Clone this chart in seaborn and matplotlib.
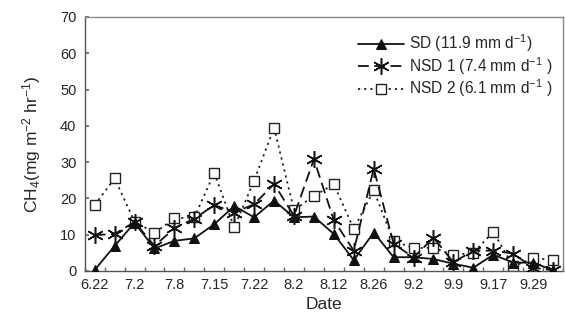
import matplotlib
matplotlib.use("Agg")
import matplotlib.pyplot as plt
import seaborn as sns
import numpy as np
import pandas as pd

# ---- data ----
dates = ["6.22", "", "7.2", "", "7.8", "", "7.15", "", "7.22", "", "8.2", "",
         "8.12", "", "8.26", "", "9.2", "", "9.9", "", "9.17", "", "9.29", ""]
sd = [0.3, 6.9, 13.3, 6.2, 8.3, 9.0, 12.9, 17.9, 14.8, 19.4, 14.8, 15.0,
      10.2, 3.0, 10.6, 3.8, 3.8, 3.3, 2.0, 0.9, 4.5, 2.3, 2.3, 0.2]
nsd1 = [9.9, 10.2, 13.5, 6.9, 11.8, 14.4, 18.2, 16.1, 18.4, 24.0, 15.2, 30.8,
        14.0, 5.6, 28.2, 7.5, 3.7, 9.2, 2.4, 5.6, 5.6, 4.8, 0.9, 0.2]
nsd2 = [18.2, 25.5, 13.6, 10.5, 14.5, 14.8, 27.0, 12.0, 24.9, 39.5, 16.8, 20.7,
        23.9, 11.6, 22.2, 8.3, 6.3, 6.4, 4.4, 5.0, 10.8, 1.3, 3.5, 3.1]
series_labels = [r"SD (11.9 mm d$^{-1}$)", r"NSD 1 (7.4 mm d$^{-1}$ )", r"NSD 2 (6.1 mm d$^{-1}$ )"]
yticks = [0, 10, 20, 30, 40, 50, 60, 70]

sns.set_theme(style="white")
plt.rcParams['font.family'] = ['Liberation Sans', 'DejaVu Sans']
plt.rcParams['mathtext.fontset'] = 'custom'
plt.rcParams['mathtext.rm'] = 'Liberation Sans'
plt.rcParams['mathtext.it'] = 'Liberation Sans'

fig = plt.figure(figsize=(5.65, 3.24), dpi=100)
ax = fig.add_axes([0.150, 0.1636, 0.8465, 0.784])

x = np.arange(len(sd))
df = pd.DataFrame({"x": x, "sd": sd, "nsd1": nsd1, "nsd2": nsd2})

sns.lineplot(data=df, x="x", y="nsd2", ax=ax, color="#222222", linestyle=(0, (1.2, 2.2)),
             linewidth=1.3, marker="s", markersize=7.5, markerfacecolor="white",
             markeredgecolor="#222222", markeredgewidth=1.0, label=series_labels[2], zorder=2)
sns.lineplot(data=df, x="x", y="nsd1", ax=ax, color="#111111", linestyle=(0, (6, 3)),
             linewidth=1.3, marker=(6, 2, 0), markersize=12, markeredgecolor="#111111",
             markeredgewidth=1.1, label=series_labels[1], zorder=3)
sns.lineplot(data=df, x="x", y="sd", ax=ax, color="#111111", linestyle="-",
             linewidth=1.3, marker="^", markersize=7, markerfacecolor="#111111",
             markeredgecolor="#111111", label=series_labels[0], zorder=4)

ax.set_xlim(-0.5, len(sd) - 0.5)
ax.set_ylim(0, 70)
ax.set_yticks(yticks)
ax.set_yticklabels([str(v) for v in yticks], fontsize=10.5)
ax.set_xticks(x[::2])
ax.set_xticklabels([d for d in dates[::2]], fontsize=10.5)
ax.set_xticks(np.arange(-0.5, len(sd), 1), minor=True)
ax.tick_params(axis="x", which="major", length=0, pad=5)
ax.tick_params(axis="x", which="minor", direction="in", length=3, color="#666666", bottom=True)
ax.tick_params(axis="y", direction="in", length=3, color="#666666", left=True, pad=6)

for s in ax.spines.values():
    s.set_visible(True)
    s.set_color("#888888")
    s.set_linewidth(1.0)
ax.spines["left"].set_color("#555555")
ax.spines["bottom"].set_color("#555555")

ax.set_xlabel("Date", fontsize=12.5, labelpad=4)
ax.set_ylabel(r"CH$_4$(mg m$^{-2}$ hr$^{-1}$)", fontsize=12.5, labelpad=12)

handles, labels = ax.get_legend_handles_labels()
order = [2, 1, 0]
ax.legend([handles[i] for i in order], [labels[i] for i in order], loc="upper right",
          bbox_to_anchor=(0.997, 0.975), frameon=False, fontsize=11.2,
          handlelength=3.0, handletextpad=0.3, labelspacing=0.05, borderaxespad=0.2)

fig.savefig("out.png", dpi=100)
